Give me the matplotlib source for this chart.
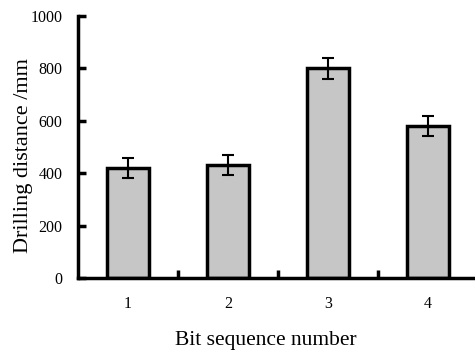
import numpy as np
import matplotlib
matplotlib.use("Agg")
import matplotlib.pyplot as plt

# -----------------------------
# Data
# -----------------------------
bits = ["1", "2", "3", "4"]
distance = [420, 430, 800, 580]
errors = [37, 38, 40, 38]

plt.rcParams["font.family"] = "Liberation Serif"

fig = plt.figure(figsize=(4.75, 3.54), dpi=100)
ax = fig.add_axes([78 / 475, 75.7 / 354, 400 / 475, 262.5 / 354])

x = np.arange(1, len(bits) + 1)
ax.bar(x, distance, width=0.42, color="#c6c6c6", edgecolor="black",
       linewidth=2.5, zorder=2)
ax.errorbar(x, distance, yerr=errors, fmt="none", ecolor="black",
            elinewidth=1.5, capsize=4, capthick=1.5, zorder=3)

ax.set_xlim(0.5, 4.5)
ax.set_ylim(0, 1000)
ax.set_yticks(range(0, 1001, 200))

# boundary ticks between categories, labels at centres
ax.set_xticks([1.5, 2.5, 3.5])
ax.set_xticklabels([])
ax.set_xticks(x, minor=True)
ax.set_xticklabels(bits, minor=True)
ax.tick_params(axis="x", which="major", direction="in", length=6, width=2.5)
ax.tick_params(axis="x", which="minor", length=0, pad=13, labelsize=11.5)
ax.tick_params(axis="y", direction="in", length=6, width=2.5, pad=11,
               labelsize=11.5)

for side in ["top", "right"]:
    ax.spines[side].set_visible(False)
ax.spines["left"].set_linewidth(2.5)
ax.spines["bottom"].set_linewidth(2.5)

ax.set_ylabel("Drilling distance /mm", fontsize=16)
ax.yaxis.set_label_coords(-0.113, 0.466)
ax.set_xlabel("Bit sequence number", fontsize=15.5)
ax.xaxis.set_label_coords(0.47, -0.2)

fig.savefig("out.png", dpi=100)
